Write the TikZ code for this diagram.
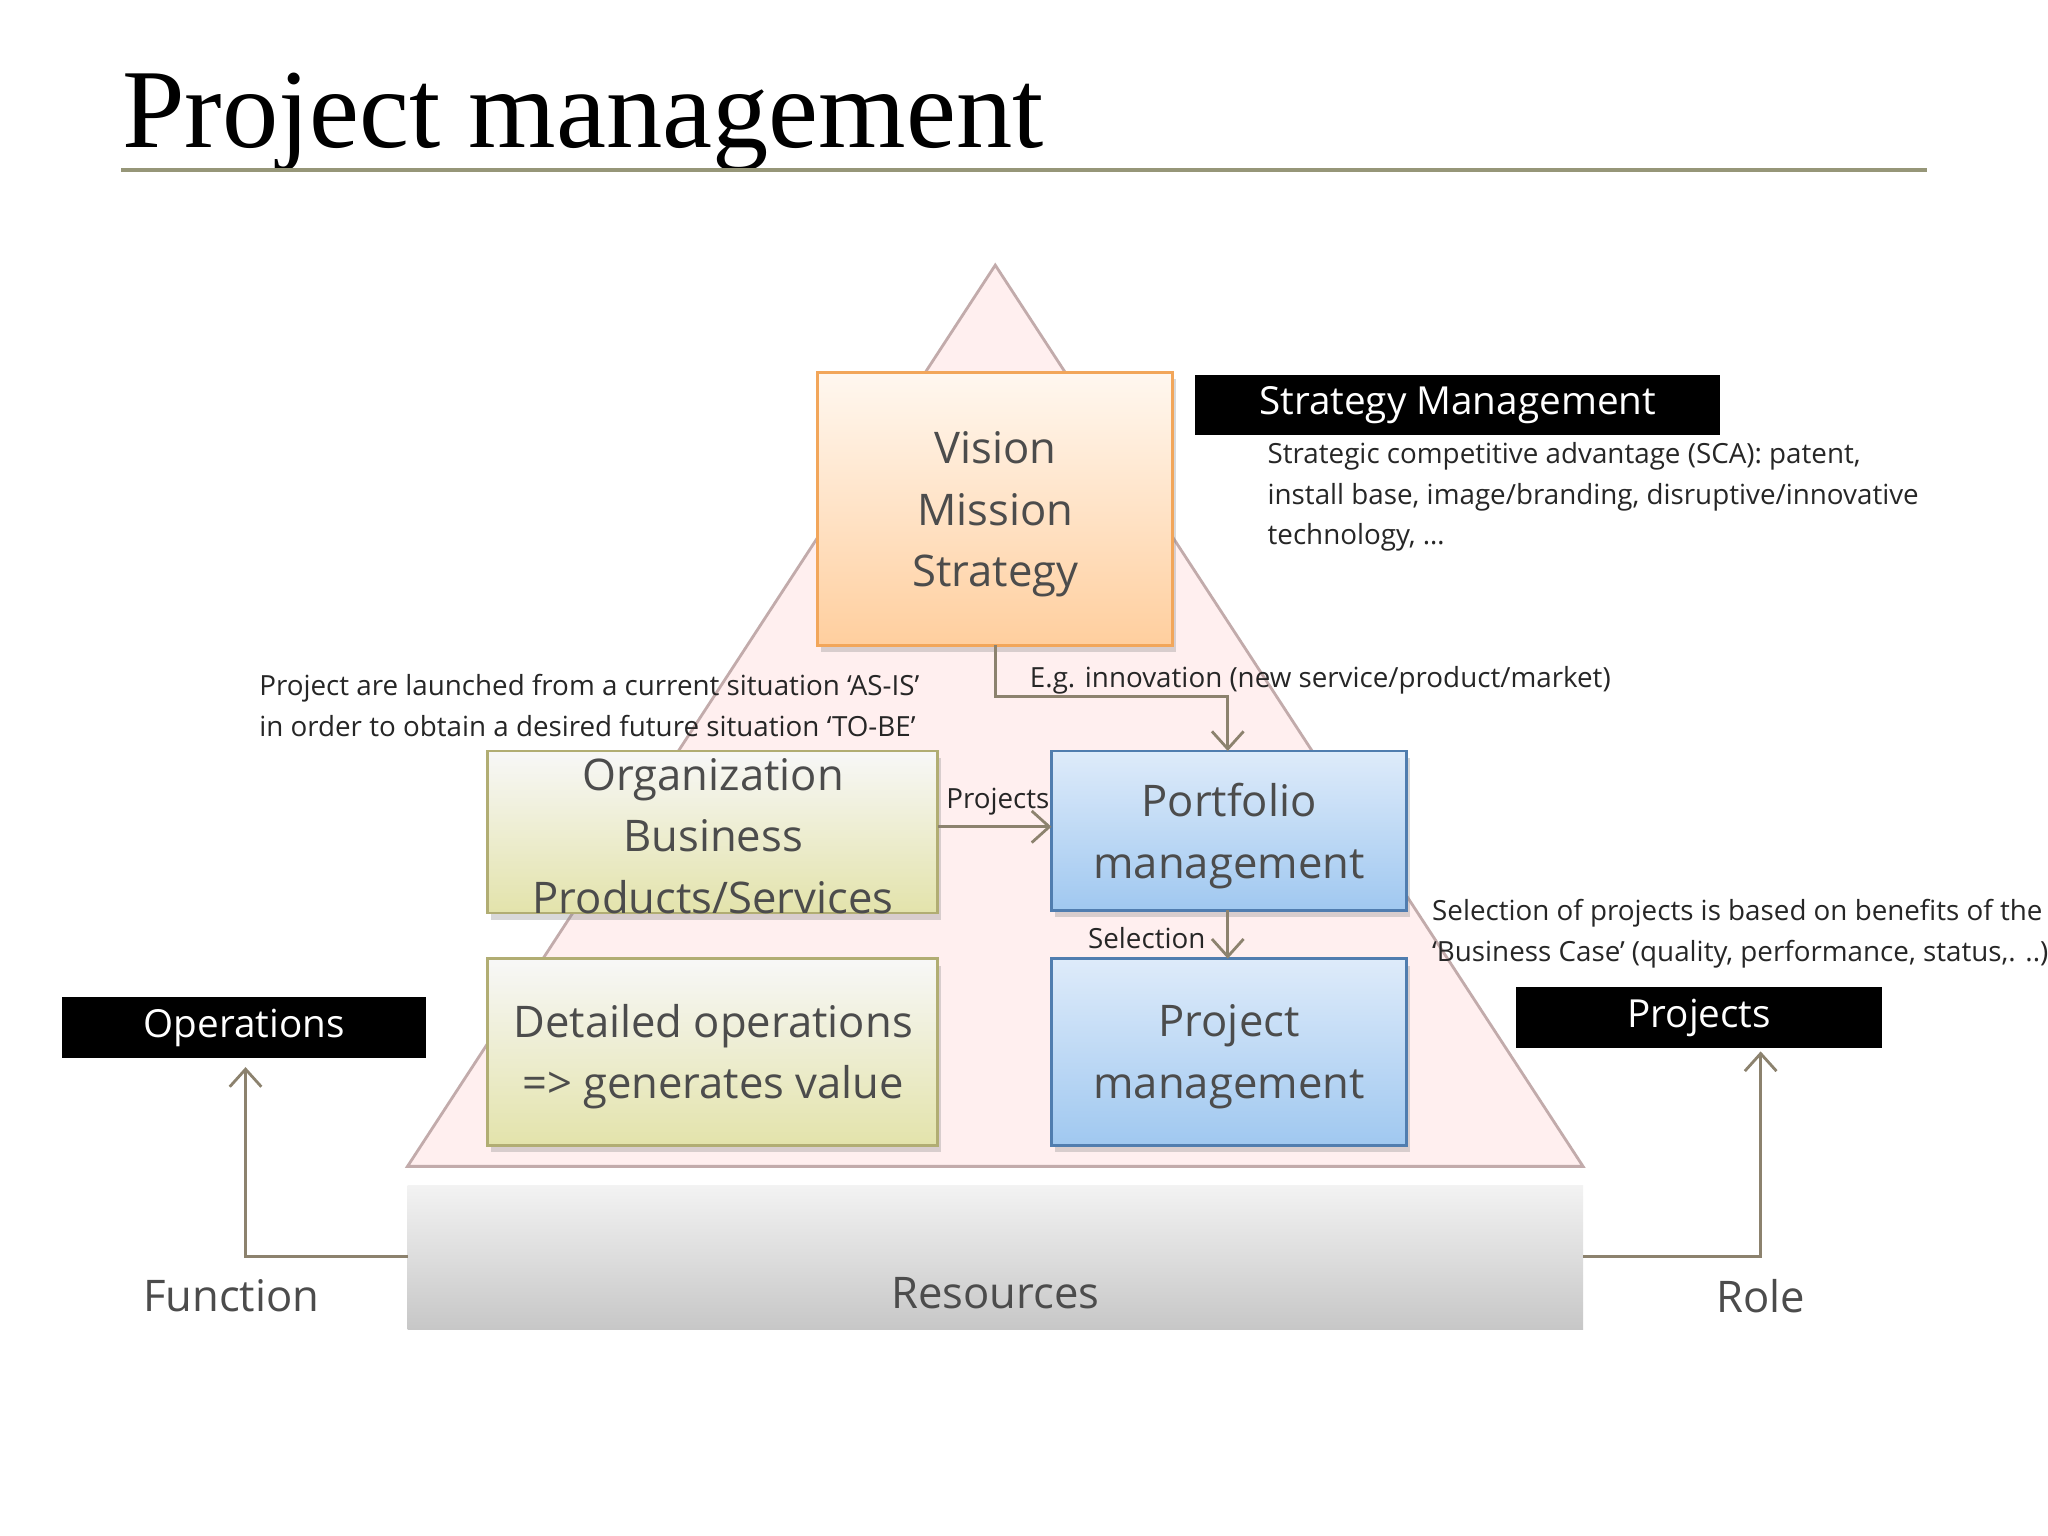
\documentclass[tikz,border=0pt]{standalone}
\usepackage{fontspec}
\setmainfont{Open Sans}
\newfontfamily\titlefont{Liberation Serif}
\usetikzlibrary{arrows.meta,shadows}
\definecolor{olivel}{RGB}{150,150,120}
\definecolor{arr}{RGB}{140,130,110}
\definecolor{skyt}{RGB}{222,235,250}
\definecolor{skyb}{RGB}{160,200,240}
\definecolor{skyd}{RGB}{80,125,175}
\tikzset{
  pbox/.style={draw=#1, line width=0.8pt, drop shadow={opacity=0.3,shadow xshift=1pt,shadow yshift=-2pt}},
  big/.style={font=\fontsize{12.4}{17.5}\selectfont, text=black!70, align=center},
  small/.style={font=\fontsize{7.9}{11.6}\selectfont, align=left, text=black!85},
  blk/.style={fill=black, text=white, font=\fontsize{11}{13}\selectfont, anchor=center},
  conn/.style={draw=arr, line width=0.8pt, -{Straight Barb[length=5pt,width=9pt]}}
}
\begin{document}
\begin{tikzpicture}[x=0.01306cm,y=-0.01306cm]
\useasboundingbox (0,0) rectangle (1568,1176);
\fill[white] (0,0) rectangle (1568,1176);
% title
\node[anchor=base west, inner sep=0, font=\titlefont\fontsize{32}{34}\selectfont] (title) at (93,113) {Project management};
\draw[olivel, line width=1pt] (93,130) -- (1475,130);
% pyramid
\draw[fill=pink!25, draw=pink!60!black!60, line width=0.8pt] (762,203) -- (1212,893) -- (312,893) -- cycle;
% resources
\shade[top color=black!5, bottom color=black!22] (312,908) rectangle (1212,1018);
\node[big] (res) at (762,990) {Resources};
% boxes
\shade[pbox=orange!70!brown!70, top color=orange!6, bottom color=orange!38] (626,285) rectangle (898,494);
\node[big] (vis) at (762,394) {Vision\\Mission\\Strategy};
\coordinate (visb) at (762,494);
\shade[pbox=olive!50!gray!70, top color=black!3, bottom color=olive!22] (373,575) rectangle (718,699);
\node[big] (org) at (546,640) {Organization\\Business\\Products/Services};
\shade[pbox=skyd, top color=skyt, bottom color=skyb] (805,575) rectangle (1077,697);
\node[big] (port) at (941,640) {Portfolio\\management};
\shade[pbox=olive!50!gray!70, top color=black!3, bottom color=olive!22] (373,734) rectangle (718,877);
\node[big] (det) at (546,809) {Detailed operations\\=> generates value};
\shade[pbox=skyd, top color=skyt, bottom color=skyb] (805,734) rectangle (1077,877);
\node[big] (pm) at (941,809) {Project\\management};
% black labels
\node[blk, minimum width=402*0.01306cm, minimum height=40*0.01306cm] (sm) at (1116,310) {Strategy Management};
\node[blk, minimum width=279*0.01306cm, minimum height=40*0.01306cm] (ops) at (187,787) {Operations};
\node[blk, minimum width=280*0.01306cm, minimum height=40*0.01306cm] (prj) at (1301,779) {Projects};
% texts
\node[small, anchor=north west, inner sep=0] (sca) at (970,338) {Strategic competitive advantage (SCA): patent,\\install base, image/branding, disruptive/innovative\\technology, …};
\node[small, anchor=north west, inner sep=0] (asis) at (198,516) {Project are launched from a current situation ‘AS-IS’\\in order to obtain a desired future situation ‘TO-BE’};
\node[small, anchor=north west, inner sep=0] (sel) at (1096,688) {Selection of projects is based on benefits of the\\‘Business Case’ (quality, performance, status,. ..)};
\node[big] (fun) at (177,992) {Function};
\node[big] (role) at (1348,992) {Role};
% connectors
\coordinate (portt) at (940,575);
\coordinate (portb) at (940,697);
\coordinate (pmt) at (940,734);
\coordinate (orgr) at (718,633);
\coordinate (portl) at (805,633);
\coordinate (resl) at (312,962);
\coordinate (resr) at (1212,962);
\coordinate (opsb) at (188,817);
\coordinate (prjb) at (1348,805);
\draw[conn] (visb) -- (762,533) -- (940,533) -- (portt);
\node[small, anchor=west, inner sep=0] (eg) at (788,521) {E.g. innovation (new service/product/market)};
\draw[conn] (orgr) -- (portl);
\node[small, inner sep=0] (pl) at (764,614) {Projects};
\draw[conn] (portb) -- (pmt);
\node[small, inner sep=0] (sl) at (878,718) {Selection};
\draw[conn] (resl) -- (188,962) -- (opsb);
\draw[conn] (resr) -- (1348,962) -- (prjb);
\end{tikzpicture}
\end{document}
